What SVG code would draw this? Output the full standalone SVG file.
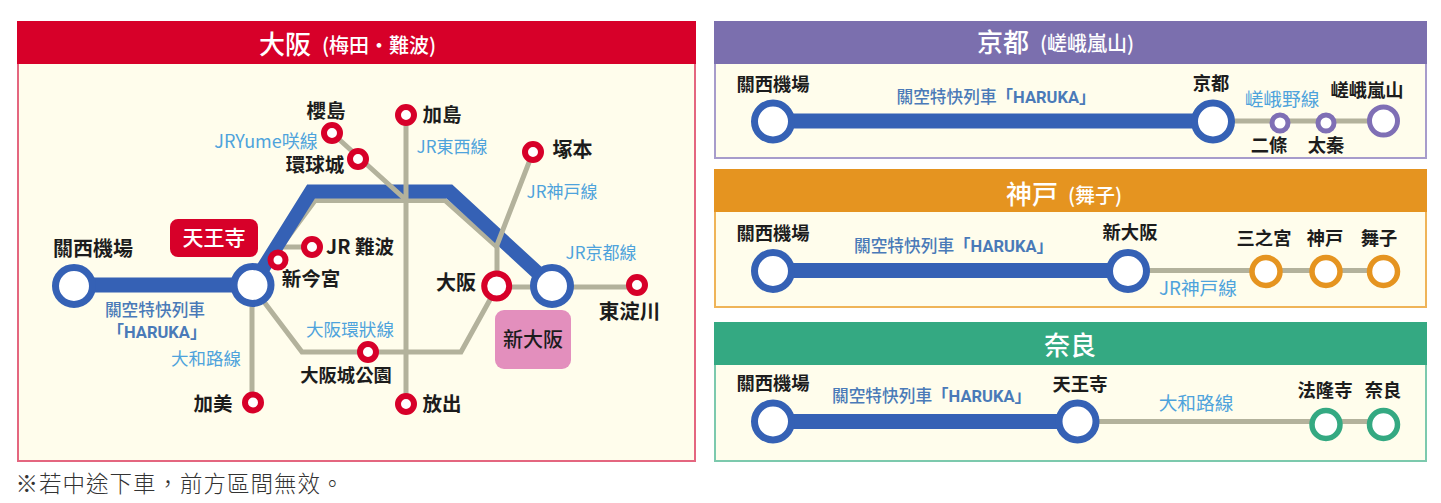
<svg xmlns="http://www.w3.org/2000/svg" width="1441" height="503" viewBox="0 0 1441 503" lang="zh-TW">
<style>
text{font-family:"Noto Sans CJK TC","Noto Sans CJK JP","Liberation Sans",sans-serif}
.n{font-size:19.5px;font-weight:700;fill:#1c1c1c;text-anchor:middle}
.m{font-size:18.3px;font-weight:700;fill:#1c1c1c;text-anchor:middle}
.l{font-size:17px;fill:#4ea3dc;text-anchor:middle}
.k{font-size:18.7px;fill:#4ea3dc;text-anchor:middle}
.h{font-size:16.7px;font-weight:500;fill:#4a7ab8;text-anchor:middle}
.hk{font-family:Roboto,"Noto Sans CJK TC",sans-serif;font-size:16.5px;font-weight:700;fill:#4a7ab8;text-anchor:middle}
.t{font-size:26px;fill:#fff;font-weight:500}
.s{font-size:20px;fill:#fff;font-weight:500}
.g{fill:none;stroke:#b3b29c;stroke-width:5;stroke-linejoin:miter}
.b{fill:none;stroke:#3561b5;stroke-width:15;stroke-linejoin:miter}
.bs{fill:#fff;stroke:#3561b5;stroke-width:7}
.r{fill:#fff;stroke:#d70029;stroke-width:6}
.p{fill:#fff;stroke:#7f6fb5;stroke-width:5}
.o{fill:#fff;stroke:#e59420;stroke-width:5.5}
.e{fill:#fff;stroke:#34a982;stroke-width:5.5}
</style>
<rect width="1441" height="503" fill="#fff"/>
<g id="panel-osaka"><rect x="18" y="22" width="677" height="439" fill="#fffdec" stroke="#e4667f" stroke-width="2"/><rect x="17" y="21" width="679" height="43" fill="#d70029"/><text x="259" y="54" class="t">大阪</text><text x="322" y="53" class="s">(梅田・難波)</text></g>
<g id="panel-kyoto"><rect x="715" y="22" width="711" height="136" fill="#fffdec" stroke="#a79ccb" stroke-width="2"/><rect x="714" y="21" width="713" height="43" fill="#7b6fae"/><text x="977" y="52" class="t">京都</text><text x="1040" y="51" class="s">(嵯峨嵐山)</text></g>
<g id="panel-kobe"><rect x="715" y="170" width="711" height="137" fill="#fffdec" stroke="#efb458" stroke-width="2"/><rect x="714" y="169" width="713" height="43" fill="#e59420"/><text x="1006" y="204" class="t">神戸</text><text x="1068" y="203" class="s">(舞子)</text></g>
<g id="panel-nara"><rect x="715" y="323" width="711" height="138" fill="#fffdec" stroke="#7cc9ad" stroke-width="2"/><rect x="714" y="322" width="713" height="43" fill="#34a982"/><text x="1070" y="355" class="t" text-anchor="middle">奈良</text></g>
<g id="connectors">
<path class="g" d="M497 287H637M497 287L461 352H302L252 286V402M252 286L315 200.500H445L497 247M270 247H312"/>
<path class="b" d="M74 285H252"/>
<path class="b" style="stroke-width:14" d="M252 286L311 191.500H449.500L552 286"/>
<path class="g" d="M332 133L406 200M406 115V404M533 152L497 245V287"/>
<path class="g" d="M1213 121H1383"/><path class="b" d="M773 121H1213"/>
<path class="g" d="M1128 270.500H1383"/><path class="b" d="M773 270.500H1128"/>
<path class="g" d="M1077 421.500H1383"/><path class="b" d="M773 421.500H1077"/>
</g>
<g id="n-kix"><circle class="bs" cx="74" cy="286" r="18.500"/><text class="n" x="93" y="256" style="font-size:20px">關西機場</text></g>
<g id="n-tennoji"><circle class="bs" cx="252.500" cy="285" r="18.500"/><rect x="170" y="219" width="88" height="38" rx="8" fill="#d70029"/><text x="214" y="245" font-size="21" font-weight="500" fill="#fff" text-anchor="middle">天王寺</text></g>
<g id="n-shinimamiya"><circle class="r" cx="278" cy="260" r="7.500"/><text class="n" x="311" y="286">新今宮</text></g>
<g id="n-namba"><circle class="r" cx="312" cy="247" r="8"/><text class="n" x="360" y="254">JR 難波</text></g>
<g id="n-sakurajima"><circle class="r" cx="332" cy="133" r="8"/><text class="n" x="326" y="118">櫻島</text></g>
<g id="n-usj"><circle class="r" cx="358" cy="159" r="8"/><text class="n" x="315" y="172">環球城</text></g>
<g id="n-kashima"><circle class="r" cx="406" cy="115" r="8"/><text class="n" x="442" y="122">加島</text></g>
<g id="n-tsukamoto"><circle class="r" cx="533" cy="152" r="8"/><text class="n" x="572.500" y="157" style="font-size:20px">塚本</text></g>
<g id="n-osaka"><circle class="r" cx="496.700" cy="286" r="12.500"/><text class="n" x="456" y="290" style="font-size:20px">大阪</text></g>
<g id="n-shinosaka"><circle class="bs" cx="552" cy="286" r="18.500"/><rect x="495" y="310" width="76" height="59" rx="9" fill="#e38fbd"/><text x="533" y="347" font-size="20" font-weight="500" fill="#1c1c1c" text-anchor="middle">新大阪</text></g>
<g id="n-higashiyodogawa"><circle class="r" cx="637" cy="285" r="8"/><text class="n" x="629.500" y="319" style="font-size:20.500px">東淀川</text></g>
<g id="n-osakajo"><circle class="r" cx="368" cy="352" r="8"/><text class="m" x="346" y="382">大阪城公園</text></g>
<g id="n-hanaten"><circle class="r" cx="406" cy="404" r="8"/><text class="n" x="442" y="411">放出</text></g>
<g id="n-kami"><circle class="r" cx="253" cy="402.500" r="8"/><text class="n" x="213" y="411">加美</text></g>
<g id="labels-osaka">
<text class="l" x="266" y="148" style="font-size:18px">JRYume咲線</text><text class="l" x="452" y="153">JR東西線</text><text class="l" x="562" y="198">JR神戸線</text><text class="l" x="601" y="259">JR京都線</text><text class="l" x="350" y="336" style="font-size:17.600px">大阪環狀線</text><text class="l" x="206" y="365" style="font-size:17.500px">大和路線</text>
<text class="h" x="155" y="316">關空特快列車</text><text class="hk" x="157" y="338">「HARUKA」</text>
</g>
<g id="kyoto-line"><circle class="bs" cx="773" cy="121.500" r="18.500"/><circle class="bs" cx="1213" cy="121.500" r="18.500"/><circle class="p" cx="1280" cy="123" r="8"/><circle class="p" cx="1326" cy="123" r="8"/><circle class="p" cx="1383.500" cy="121" r="14"/>
<text class="m" x="773" y="91">關西機場</text><text class="m" x="1211" y="90">京都</text><text class="m" x="1367" y="97">嵯峨嵐山</text><text class="m" x="1269" y="152">二條</text><text class="m" x="1326" y="152">太秦</text>
<text class="h" x="996" y="103">關空特快列車<tspan class="hk">「HARUKA」</tspan></text><text class="k" x="1282" y="106">嵯峨野線</text></g>
<g id="kobe-line"><circle class="bs" cx="773" cy="271" r="18.500"/><circle class="bs" cx="1128" cy="271" r="18.500"/><circle class="o" cx="1266" cy="271.500" r="14"/><circle class="o" cx="1326" cy="271.500" r="14"/><circle class="o" cx="1383.500" cy="271.500" r="14"/>
<text class="m" x="773" y="240">關西機場</text><text class="m" x="1130" y="239">新大阪</text><text class="m" x="1264" y="245">三之宮</text><text class="m" x="1325" y="245">神戸</text><text class="m" x="1379" y="245">舞子</text>
<text class="h" x="953.500" y="252">關空特快列車<tspan class="hk">「HARUKA」</tspan></text><text class="k" x="1198" y="295">JR神戸線</text></g>
<g id="nara-line"><circle class="bs" cx="773" cy="421.500" r="18.500"/><circle class="bs" cx="1077.500" cy="421.500" r="18.500"/><circle class="e" cx="1326" cy="424.500" r="14"/><circle class="e" cx="1383.500" cy="424.500" r="14"/>
<text class="m" x="773" y="390">關西機場</text><text class="m" x="1080" y="391">天王寺</text><text class="m" x="1325" y="397">法隆寺</text><text class="m" x="1383" y="397">奈良</text>
<text class="h" x="931.500" y="402">關空特快列車<tspan class="hk">「HARUKA」</tspan></text><text class="k" x="1196" y="410">大和路線</text></g>
<text x="15.500" y="492" font-size="22.500" font-weight="300" fill="#333" letter-spacing="1">※若中途下車，前方區間無效。</text>
</svg>
